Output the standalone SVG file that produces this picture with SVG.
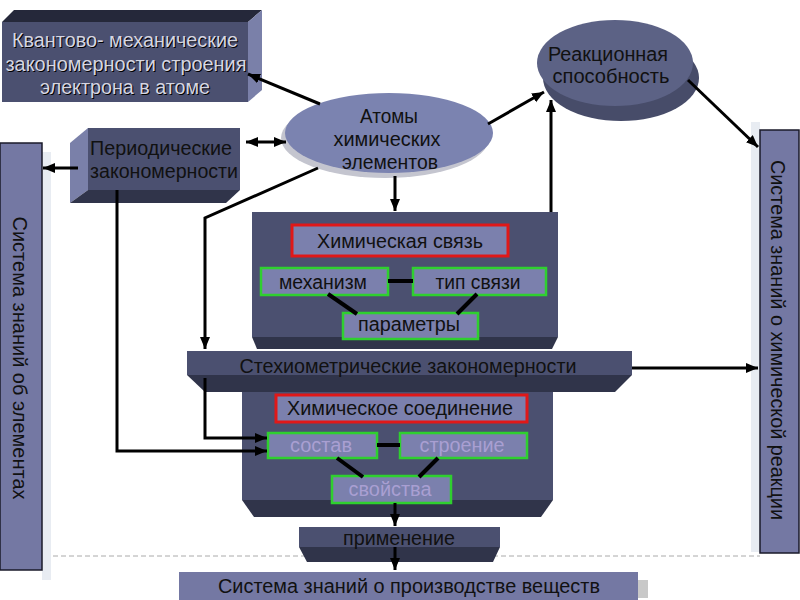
<svg xmlns="http://www.w3.org/2000/svg" width="800" height="600" viewBox="0 0 800 600">
<defs>
<marker id="ah" markerUnits="userSpaceOnUse" markerWidth="13" markerHeight="11" refX="12" refY="5" orient="auto-start-reverse">
<path d="M0,0 L12,5 L0,10 z" fill="#000"/>
</marker>
<style>
text{font-family:"Liberation Sans",Arial,sans-serif;font-size:19.5px;text-anchor:middle}
.front{fill:#4b5070}
.bevel{fill:#30344a}
.side{fill:#7a80a9}
.top{fill:#25283a}
.red{fill:#7b80ad;stroke:#e01818;stroke-width:3}
.green{fill:#7b80ad;stroke:#2fd02f;stroke-width:2.5}
.sys{fill:#7478a3;stroke:#1a1a2a;stroke-width:1.5}
.shade{fill:#e8ecf2}
.dk{fill:#111}
.lt{fill:#d6d6e2}
.sh{fill:#000}
.faded{fill:#a99fd2}
.con{stroke:#000;stroke-width:3;fill:none}
.arr{marker-end:url(#ah)}
.link{stroke:#000;stroke-width:4}
</style>
</defs>
<rect width="800" height="600" fill="#fff"/>
<line x1="45" y1="556" x2="760" y2="556" stroke="#aaa" stroke-width="1" stroke-dasharray="5,3"/>

<g id="sys-elements">
<rect class="shade" x="42" y="152" width="9" height="428"/>
<rect class="sys" x="0" y="143" width="42" height="427"/>
<text class="dk" transform="translate(13,358) rotate(90)" font-size="20" textLength="283" lengthAdjust="spacingAndGlyphs">Система знаний об элементах</text>
</g>

<g id="sys-reaction">
<rect class="shade" x="751" y="122" width="9" height="430"/>
<rect class="sys" x="760" y="130" width="39" height="423"/>
<text class="dk" transform="translate(771,340) rotate(90)" font-size="20" textLength="360" lengthAdjust="spacingAndGlyphs">Система знаний о химической реакции</text>
</g>

<g id="sys-production">
<rect x="638" y="580" width="10" height="18" fill="#c8c8c8"/>
<rect x="179" y="572" width="459" height="28" fill="#7478a3"/>
<text class="dk" x="409" y="593" font-size="20" textLength="382" lengthAdjust="spacingAndGlyphs">Система знаний о производстве веществ</text>
</g>

<g id="quantum">
<polygon class="top" points="2,22 14,10 262,10 248,22"/>
<polygon class="side" points="248,22 262,10 262,90 248,102"/>
<rect class="front" x="2" y="22" width="246" height="80"/>
<text class="sh" x="126" y="48" textLength="226" lengthAdjust="spacingAndGlyphs">Квантово- механические</text>
<text class="lt" x="125" y="47" textLength="226" lengthAdjust="spacingAndGlyphs">Квантово- механические</text>
<text class="sh" x="127" y="72" textLength="241" lengthAdjust="spacingAndGlyphs">закономерности строения</text>
<text class="lt" x="126" y="71" textLength="241" lengthAdjust="spacingAndGlyphs">закономерности строения</text>
<text class="sh" x="126" y="95" textLength="170" lengthAdjust="spacingAndGlyphs">электрона в атоме</text>
<text class="lt" x="125" y="94" textLength="170" lengthAdjust="spacingAndGlyphs">электрона в атоме</text>
</g>

<g id="periodic">
<polygon class="side" points="70,143 88,128 88,190 70,203"/>
<polygon class="bevel" points="70,203 88,190 240,190 226,203"/>
<rect class="front" x="88" y="128" width="152" height="62"/>
<text class="dk" x="161" y="155" textLength="142" lengthAdjust="spacingAndGlyphs">Периодические</text>
<text class="dk" x="164" y="178" textLength="148" lengthAdjust="spacingAndGlyphs">закономерности</text>
</g>

<g id="atoms">
<ellipse cx="385" cy="138" rx="104" ry="40" fill="#c4c5cf"/>
<ellipse cx="389" cy="133" rx="104" ry="40" fill="#7b83b0"/>
<text class="dk" x="389" y="123" textLength="58" lengthAdjust="spacingAndGlyphs">Атомы</text>
<text class="dk" x="387" y="146" textLength="107" lengthAdjust="spacingAndGlyphs">химических</text>
<text class="dk" x="390" y="169" textLength="96" lengthAdjust="spacingAndGlyphs">элементов</text>
</g>

<g id="reactivity">
<ellipse cx="621" cy="78" rx="78" ry="43" fill="#474c69"/>
<ellipse cx="615" cy="63" rx="78" ry="43" fill="#5c6285"/>
<text class="dk" x="608" y="61" textLength="120" lengthAdjust="spacingAndGlyphs">Реакционная</text>
<text class="dk" x="611" y="83" textLength="117" lengthAdjust="spacingAndGlyphs">способность</text>
</g>

<g id="bond-block">
<rect class="front" x="252" y="212" width="306" height="125"/>
<polygon class="bevel" points="252,337 558,337 552,349 257,349"/>
</g>
<g id="bond">
<rect class="red" x="292" y="225" width="216" height="31"/>
<text class="dk" x="400" y="248" textLength="166" lengthAdjust="spacingAndGlyphs">Химическая связь</text>
</g>
<g id="mechanism">
<rect class="green" x="261" y="268" width="127" height="27"/>
<text class="dk" x="323" y="289" textLength="88" lengthAdjust="spacingAndGlyphs">механизм</text>
</g>
<g id="bondtype">
<rect class="green" x="413" y="268" width="133" height="27"/>
<text class="dk" x="478" y="289" textLength="85" lengthAdjust="spacingAndGlyphs">тип связи</text>
</g>
<g id="parameters">
<rect class="green" x="343" y="313" width="135" height="26"/>
<text class="dk" x="409" y="331" textLength="102" lengthAdjust="spacingAndGlyphs">параметры</text>
</g>

<g id="compound-block">
<rect class="front" x="242" y="388" width="311" height="112"/>
<polygon class="bevel" points="242,500 553,500 541,517 254,517"/>
</g>

<g id="stoich">
<rect class="front" x="187" y="351" width="445" height="24"/>
<polygon class="bevel" points="187,375 632,375 615,392 205,392"/>
<text class="dk" x="408" y="373" textLength="337" lengthAdjust="spacingAndGlyphs">Стехиометрические закономерности</text>
</g>

<g id="compound">
<rect class="red" x="276" y="395" width="251" height="27"/>
<text class="dk" x="400" y="415" textLength="226" lengthAdjust="spacingAndGlyphs">Химическое соединение</text>
</g>
<g id="composition">
<rect class="green" x="268" y="433" width="109" height="25"/>
<text class="faded" x="321" y="452" textLength="62" lengthAdjust="spacingAndGlyphs">состав</text>
</g>
<g id="structure">
<rect class="green" x="400" y="433" width="127" height="25"/>
<text class="faded" x="462" y="452" textLength="85" lengthAdjust="spacingAndGlyphs">строение</text>
</g>
<g id="properties">
<rect class="green" x="332" y="476" width="119" height="27"/>
<text class="faded" x="390" y="496" textLength="83" lengthAdjust="spacingAndGlyphs">свойства</text>
</g>

<g id="application">
<rect class="front" x="299" y="527" width="201" height="20"/>
<polygon class="bevel" points="299,547 500,547 493,562 307,562"/>
<text class="dk" x="399" y="545" textLength="112" lengthAdjust="spacingAndGlyphs">применение</text>
</g>

<g id="connectors">
<line class="con arr" x1="320" y1="104" x2="248" y2="74"/>
<line class="con arr" x1="246" y1="142" x2="286" y2="142" marker-start="url(#ah)"/>
<line class="con arr" x1="78" y1="168" x2="43" y2="168"/>
<line class="con arr" x1="488" y1="124" x2="544" y2="92"/>
<line class="con arr" x1="551" y1="212" x2="551" y2="100"/>
<line class="con arr" x1="688" y1="80" x2="758" y2="147"/>
<line class="con arr" x1="395" y1="176" x2="395" y2="211"/>
<polyline class="con arr" points="318,168 205,218 205,349"/>
<polyline class="con arr" points="205,378 205,438 267,438"/>
<polyline class="con arr" points="117,190 117,451 267,451"/>
<line class="con arr" x1="632" y1="368" x2="758" y2="368"/>
<line class="con arr" x1="395" y1="503" x2="395" y2="526"/>
<line class="con arr" x1="395" y1="547" x2="395" y2="570"/>
<line class="link" x1="388" y1="281" x2="413" y2="281"/>
<line class="link" x1="328" y1="294" x2="357" y2="314"/>
<line class="link" x1="477" y1="294" x2="457" y2="314"/>
<line class="link" x1="377" y1="445" x2="400" y2="445"/>
<line class="link" x1="337" y1="458" x2="363" y2="477"/>
<line class="link" x1="438" y1="458" x2="419" y2="477"/>
</g>
</svg>
